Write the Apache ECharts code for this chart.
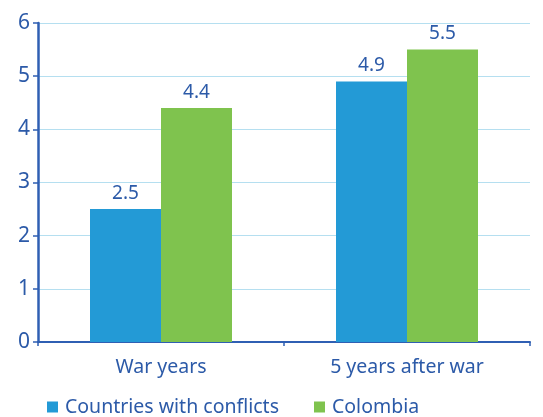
<!DOCTYPE html>
<html><head><meta charset="utf-8">
<script src="https://cdn.jsdelivr.net/npm/echarts@6/dist/echarts.min.js"></script>
<style>html,body{margin:0;padding:0;background:#fff}#c{width:543px;height:417px}</style>
</head><body><div id="c"></div>
<script>
const categories = ["War years", "5 years after war"];
const seriesNames = ["Countries with conflicts", "Colombia"];
const conflicts = [2.5, 4.9];
const colombia = [4.4, 5.5];
const yTicks = [0, 1, 2, 3, 4, 5, 6];

const txt = '#2c5aa8';
const font = 'Noto Sans';
const chart = echarts.init(document.getElementById('c'));
chart.setOption({
  animation: false,
  textStyle: {fontFamily: font},
  grid: {left: 38, right: 13, top: 23, bottom: 75, containLabel: false},
  legend: {
    bottom: -5, left: 42, itemWidth: 11, itemHeight: 11, itemGap: 35,
    icon: 'rect',
    textStyle: {color: txt, fontSize: 19.5, fontFamily: font, padding: [0,0,0,2]},
    data: seriesNames
  },
  xAxis: {
    type: 'category', data: categories,
    axisLine: {lineStyle: {color: '#2f5fb3', width: 2}},
    axisTick: {show: true, length: 4, lineStyle: {color: '#2f5fb3', width: 1.5}},
    axisLabel: {color: txt, fontSize: 19.5, margin: 15}
  },
  yAxis: {
    type: 'value', min: yTicks[0], max: yTicks[yTicks.length-1], interval: 1,
    axisLine: {show: true, lineStyle: {color: '#2f5fb3', width: 2.5}},
    axisTick: {show: true, length: 5, lineStyle: {color: '#2f5fb3', width: 1.5}},
    axisLabel: {color: txt, fontSize: 21, margin: 8},
    splitLine: {lineStyle: {color: '#b5dff0', width: 1}}
  },
  series: [
    {name: seriesNames[0], type: 'bar', data: conflicts, barWidth: 71, barGap: '0%',
     itemStyle: {color: '#239ad6'},
     label: {show: true, position: 'top', distance: 6, color: txt, fontSize: 19}},
    {name: seriesNames[1], type: 'bar', data: colombia, barWidth: 71, barGap: '0%',
     itemStyle: {color: '#7fc34e'},
     label: {show: true, position: 'top', distance: 6, color: txt, fontSize: 19}}
  ]
});
</script></body></html>
